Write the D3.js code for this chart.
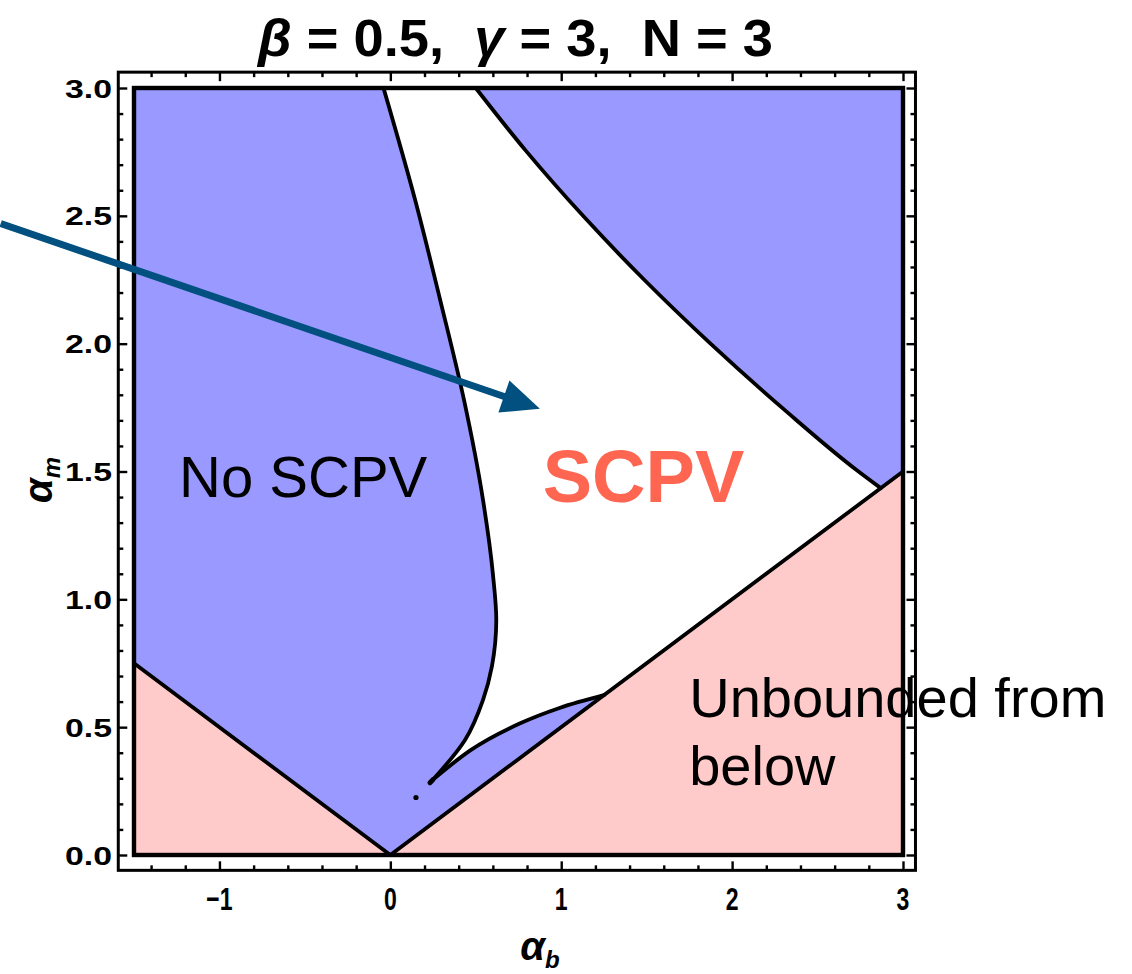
<!DOCTYPE html>
<html>
    <head>
        <meta charset="utf-8">
        <title>SCPV region plot</title>
        <script src="https://d3js.org/d3.v7.min.js"></script>
    </head>
    <style>
        body { margin: 0; background: #fff; }
        text { font-family: "Liberation Sans", Arial, sans-serif; }
    </style>
    <body>
        <div class="graph"></div>
        <script>
            // boundary curves, [alpha_b, alpha_m]
            const leftCurve = [
                [-0.04, 3.0], [0.146, 2.56], [0.292, 2.17], [0.431, 1.78], [0.542, 1.39],
                [0.60, 1.10], [0.62, 0.92], [0.595, 0.74], [0.542, 0.606], [0.437, 0.45], [0.25, 0.295]
            ];
            const rightCurve = [
                [0.50, 3.0], [0.79, 2.757], [1.129, 2.499], [1.487, 2.249], [1.869, 2.003],
                [2.307, 1.741], [2.728, 1.506], [2.87, 1.435]
            ];
            const lowerCurve = [
                [0.25, 0.295], [0.47, 0.41], [0.76, 0.515], [0.99, 0.575], [1.25, 0.625]
            ];
            // alpha_m = |alpha_b| / 2
            const vLine = [[-1.5, 0.75], [0, 0], [3, 1.5]];
            const strayDot = [[0.15, 0.225]];

            const xMajor = [-1, 0, 1, 2, 3];
            const xMinor = [-1.4, -1.2, -0.8, -0.6, -0.4, -0.2, 0.2, 0.4, 0.6, 0.8, 1.2, 1.4, 1.6, 1.8, 2.2, 2.4, 2.6, 2.8];
            const yMajor = [0, 0.5, 1, 1.5, 2, 2.5, 3];
            const yMinor = [0.1, 0.2, 0.3, 0.4, 0.6, 0.7, 0.8, 0.9, 1.1, 1.2, 1.3, 1.4, 1.6, 1.7, 1.8, 1.9,
                            2.1, 2.2, 2.3, 2.4, 2.6, 2.7, 2.8, 2.9];

            const labels = [
                { text: 'No SCPV', at: [-1.236, 1.40], cls: 'nos' },
                { text: 'SCPV', at: [0.892, 1.38], cls: 'scpv' },
                { text: 'Unbounded from', at: [1.749, 0.54], cls: 'unb' },
                { text: 'below', at: [1.749, 0.274], cls: 'unb' }
            ];
            const arrow = [[-2.28, 2.47], [0.875, 1.745]];

            const width = 1132, height = 974;

            const x = d3.scaleLinear().domain([-1.5, 3]).range([134, 903]);
            const y = d3.scaleLinear().domain([0, 3]).range([855, 88]);
            // frame sits a little outside the plot range
            const fx = [-1.592, 3.073], fy = [-0.06, 3.062];

            const svg = d3.select('.graph').append('svg')
                .attr('width', width)
                .attr('height', height);

            const line = d3.line().x(d => x(d[0])).y(d => y(d[1]));
            const curvy = d3.line().x(d => x(d[0])).y(d => y(d[1])).curve(d3.curveMonotoneY);
            const curvyX = d3.line().x(d => x(d[0])).y(d => y(d[1])).curve(d3.curveMonotoneX);

            // background: blue "No SCPV"
            svg.append('rect')
                .attr('x', x(-1.5)).attr('y', y(3))
                .attr('width', x(3) - x(-1.5)).attr('height', y(0) - y(3))
                .attr('fill', '#9999ff');

            // pink: below the V
            svg.append('path')
                .attr('d', line([[-1.5, 0], ...vLine, [3, 0]]) + 'Z')
                .attr('fill', '#ffcaca');

            // white SCPV region
            const whitePath = curvy(leftCurve) + curvyX(lowerCurve).replace(/^M/, 'L')
                + line([lowerCurve[lowerCurve.length - 1], [2.87, 1.435]]).replace(/^M/, 'L')
                + curvy(rightCurve.slice().reverse()).replace(/^M/, 'L') + 'Z';
            svg.append('path').attr('d', whitePath).attr('fill', '#ffffff');

            const bounds = svg.append('g')
                .attr('fill', 'none')
                .attr('stroke', '#000')
                .attr('stroke-width', 3.8)
                .attr('stroke-linejoin', 'round')
                .attr('stroke-linecap', 'round');
            bounds.append('path').attr('d', line(vLine));
            bounds.append('path').attr('d', curvy(leftCurve));
            bounds.append('path').attr('d', curvy(rightCurve));
            bounds.append('path').attr('d', curvyX(lowerCurve));
            bounds.append('path').attr('d', line([[0.25, 0.295], [0.232, 0.283]])).attr('stroke-width', 5);

            svg.selectAll('.dot').data(strayDot).enter().append('circle')
                .attr('cx', d => x(d[0])).attr('cy', d => y(d[1])).attr('r', 2.6).attr('fill', '#000');

            // plot range border
            svg.append('rect')
                .attr('x', x(-1.5)).attr('y', y(3))
                .attr('width', x(3) - x(-1.5)).attr('height', y(0) - y(3))
                .attr('fill', 'none').attr('stroke', '#000').attr('stroke-width', 4.4);

            // frame
            svg.append('rect')
                .attr('x', x(fx[0])).attr('y', y(fy[1]))
                .attr('width', x(fx[1]) - x(fx[0])).attr('height', y(fy[0]) - y(fy[1]))
                .attr('fill', 'none').attr('stroke', '#000').attr('stroke-width', 3);

            function ticks(axisFn, scale, vals, size, pos) {
                const g = svg.append('g')
                    .attr('transform', pos)
                    .call(axisFn(scale).tickValues(vals).tickSize(size).tickFormat(''));
                g.select('.domain').remove();
                g.selectAll('line').attr('stroke', '#000').attr('stroke-width', 2.4);
                return g;
            }
            const atBottom = `translate(0,${y(fy[0])})`, atTop = `translate(0,${y(fy[1])})`;
            const atLeft = `translate(${x(fx[0])},0)`, atRight = `translate(${x(fx[1])},0)`;
            ticks(d3.axisBottom, x, xMajor, -9, atBottom);
            ticks(d3.axisBottom, x, xMinor, -5, atBottom);
            ticks(d3.axisTop, x, xMajor, -9, atTop);
            ticks(d3.axisTop, x, xMinor, -5, atTop);
            ticks(d3.axisLeft, y, yMajor, -9, atLeft);
            ticks(d3.axisLeft, y, yMinor, -5, atLeft);
            ticks(d3.axisRight, y, yMajor, -9, atRight);
            ticks(d3.axisRight, y, yMinor, -5, atRight);

            // tick labels
            svg.append('g').selectAll('text').data(xMajor).enter().append('text')
                .attr('transform', d => `translate(${x(d)},910) scale(0.72,1)`)
                .attr('text-anchor', 'middle')
                .attr('font-size', 32).attr('font-weight', 'bold')
                .text(d => d3.format('d')(d).replace('-', '\u2013'));

            svg.append('g').selectAll('text').data(yMajor).enter().append('text')
                .attr('transform', d => `translate(112,${y(d) + 9.5}) scale(1.3,1)`)
                .attr('text-anchor', 'end')
                .attr('font-size', 26).attr('font-weight', 'bold')
                .text(d => d3.format('.1f')(d));

            // title
            const title = svg.append('text')
                .attr('x', 258).attr('y', 56)
                .style('white-space', 'pre')
                .attr('font-size', 52).attr('font-weight', 'bold')
                .attr('textLength', 515).attr('lengthAdjust', 'spacingAndGlyphs');
            title.append('tspan').attr('font-style', 'italic').text('\u03b2');
            title.append('tspan').text(' = 0.5,  ');
            title.append('tspan').attr('font-style', 'italic').text('\u03b3');
            title.append('tspan').text(' = 3,  N = 3');

            // axis titles
            const xt = svg.append('text')
                .attr('x', 540).attr('y', 960)
                .attr('text-anchor', 'middle')
                .attr('font-size', 40).attr('font-weight', 'bold').attr('font-style', 'italic');
            xt.append('tspan').text('\u03b1');
            xt.append('tspan').attr('font-size', 24).attr('dy', 8).text('b');

            const yt = svg.append('text')
                .attr('transform', `translate(52,480) rotate(-90)`)
                .attr('text-anchor', 'middle')
                .attr('font-size', 40).attr('font-weight', 'bold').attr('font-style', 'italic');
            yt.append('tspan').text('\u03b1');
            yt.append('tspan').attr('font-size', 24).attr('dy', 8).text('m');

            // region labels
            svg.append('g').selectAll('text').data(labels).enter().append('text')
                .attr('x', d => x(d.at[0])).attr('y', d => y(d.at[1]))
                .attr('font-family', 'Arial, "Liberation Sans", sans-serif')
                .attr('font-size', d => d.cls === 'scpv' ? 74 : (d.cls === 'nos' ? 58 : 56))
                .attr('font-weight', d => d.cls === 'scpv' ? 'bold' : 'normal')
                .attr('fill', d => d.cls === 'scpv' ? '#fe6652' : '#000')
                .text(d => d.text);

            // arrow
            const p0 = [x(arrow[0][0]), y(arrow[0][1])], p1 = [x(arrow[1][0]), y(arrow[1][1])];
            const ang = Math.atan2(p1[1] - p0[1], p1[0] - p0[0]);
            const hl = 38, hw = 17;
            const base = [p1[0] - hl * Math.cos(ang), p1[1] - hl * Math.sin(ang)];
            svg.append('line')
                .attr('x1', p0[0]).attr('y1', p0[1])
                .attr('x2', base[0] + 4 * Math.cos(ang)).attr('y2', base[1] + 4 * Math.sin(ang))
                .attr('stroke', '#01507f').attr('stroke-width', 7);
            svg.append('path')
                .attr('d', `M${p1[0]},${p1[1]}L${base[0] - hw * Math.sin(ang)},${base[1] + hw * Math.cos(ang)}`
                    + `L${base[0] + hw * Math.sin(ang)},${base[1] - hw * Math.cos(ang)}Z`)
                .attr('fill', '#01507f');
        </script>
    </body>
</html>
